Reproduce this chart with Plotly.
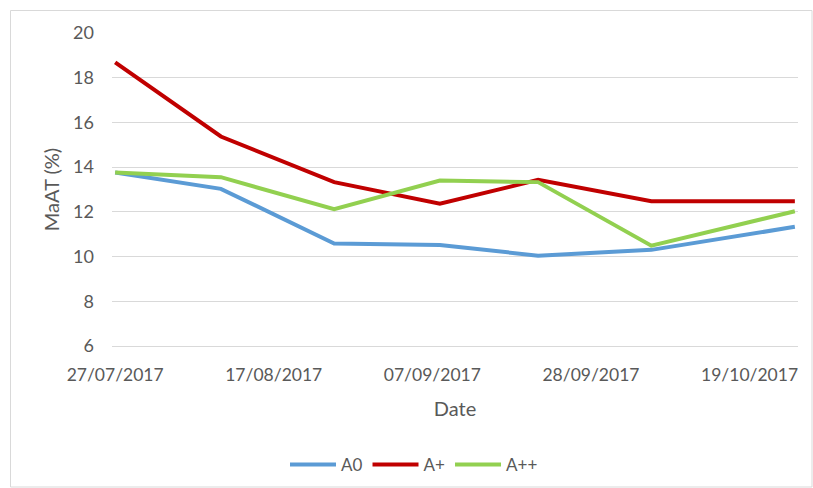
import plotly.graph_objects as go

dates = ["2017-07-27", "2017-08-10", "2017-08-25", "2017-09-08", "2017-09-21", "2017-10-06", "2017-10-25"]
a0 = [13.76, 13.03, 10.58, 10.52, 10.04, 10.30, 11.33]
a_plus = [18.69, 15.37, 13.33, 12.36, 13.43, 12.48, 12.48]
a_plusplus = [13.76, 13.55, 12.12, 13.40, 13.33, 10.49, 12.03]

series = [("A0", a0, "#5B9BD5"), ("A+", a_plus, "#C00000"), ("A++", a_plusplus, "#92D050")]

FONT = "Lato"
GREY = "#595959"

fig = go.Figure()
for name, vals, col in series:
    fig.add_trace(go.Scatter(x=dates, y=vals, name=name, mode="lines",
                             line=dict(color=col, width=4)))

W, H = 813, 488
L, R, T, B = 112, 15, 33, 142
pw, ph = W - L - R, H - T - B

def px_x(p):
    return (p - L) / pw

def px_y(p):
    return (H - B - p) / ph

fig.update_layout(
    width=W, height=H,
    margin=dict(l=L, r=R, t=T, b=B, autoexpand=False),
    paper_bgcolor="white", plot_bgcolor="white",
    font=dict(family=FONT, size=18, color=GREY),
    xaxis=dict(
        type="date",
        range=["2017-07-26 14:00", "2017-10-25 10:00"],
        tick0="2017-07-27", dtick=21 * 86400000,
        tickformat="%d/%m/%Y",
        tickfont=dict(size=17.5),
        showgrid=False, zeroline=False,
        showline=True, linecolor="#D9D9D9", linewidth=1,
        ticks="", ticklabelstandoff=13,
        title=dict(text="Date", standoff=17, font=dict(size=20)),
        automargin=False,
    ),
    yaxis=dict(
        range=[6, 20], dtick=2,
        tickfont=dict(size=18),
        showgrid=True, gridcolor="#D9D9D9", gridwidth=1,
        zeroline=False, showline=False, ticks="",
        ticklabelstandoff=17,
        title=dict(text="MaAT (%)", standoff=8, font=dict(size=20)),
        automargin=False,
    ),
    legend=dict(orientation="h", x=px_x(414), xanchor="center",
                y=px_y(465), yanchor="middle",
                font=dict(size=17, color=GREY), itemwidth=46),
    showlegend=True,
    shapes=[dict(type="rect", xref="paper", yref="paper",
                 x0=px_x(10.5), x1=px_x(812), y0=px_y(487), y1=px_y(10.5),
                 line=dict(color="#D9D9D9", width=1), layer="below")],
)

fig.write_html("out.html", config={"displayModeBar": False},
               post_script="document.body.style.margin='0';")
